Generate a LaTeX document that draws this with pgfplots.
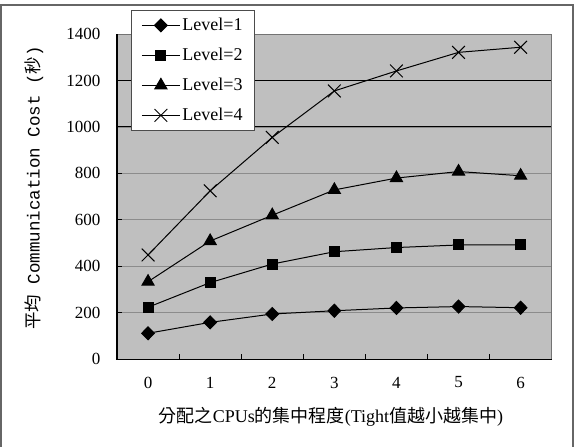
\documentclass[border=0pt]{standalone}
\usepackage{fontspec}
\setmainfont{Liberation Serif}
\newfontfamily\cjk{Noto Sans CJK TC}
\newfontfamily\mono{Liberation Mono}
\usepackage{pgfplots}
\pgfplotsset{compat=1.18}
\begin{document}
\begin{tikzpicture}[x=1pt,y=1pt]
\useasboundingbox (0,0) rectangle (581,-447);
\draw[black!60, line width=1.3pt] (1,-470) -- (1,-5) -- (573,-5) -- (573,-470);
\begin{axis}[
  at={(117pt,-359.3pt)}, anchor=south west,
  scale only axis, width=434.7pt, height=325.3pt,
  xmin=-0.5, xmax=6.5, ymin=0, ymax=1400,
  xtick={0,...,6},
  minor xtick={-0.5,0.5,...,6.5},
  ytick={0,200,...,1400},
  xtick pos=lower, ytick pos=lower,
  tick align=inside,
  major tick length=5pt, minor tick length=5pt,
  major x tick style={draw=none},
  tick style={black, line width=1pt},
  ymajorgrids,
  grid style={black!45, line width=0.8pt},
  extra y ticks={1000,1200},
  extra y tick labels={},
  extra y tick style={grid style={black, line width=1pt}},
  axis background/.style={fill=black!25},
  axis line style={draw=none},
  tick label style={font=\fontsize{17}{19}\selectfont},
  /pgf/number format/assume math mode=true,
  /pgf/number format/1000 sep={},
  yticklabel style={xshift=-13pt},
  xticklabel style={yshift=-14pt},
  clip=false,
  legend style={at={(0.0322,1.0738)}, anchor=north west, draw=black!70,
    line width=0.8pt, fill=white, font=\fontsize{18}{20}\selectfont,
    row sep=12pt, inner xsep=10pt, inner ysep=6pt, cells={anchor=west}},
  legend image code/.code={\draw[mark repeat=2,mark phase=2] plot coordinates {(0pt,0pt)(19pt,0pt)(38pt,0pt)};},
]
\draw[black!55, line width=1pt] (rel axis cs:0,1) -- (rel axis cs:1,1) -- (rel axis cs:1,0);
\draw[black, line width=1.4pt] (rel axis cs:0,1) -- (rel axis cs:0,0) -- (rel axis cs:1,0);
\addplot[black, line width=1pt, mark=diamond*, mark size=6.5pt, mark options={solid, xscale=1.3}]
  coordinates {(0,112) (1,159) (2,195) (3,209) (4,221) (5,227) (6,222)};
\addlegendentry{Level=1}
\addplot[black, line width=1pt, mark=square*, mark size=5pt, mark options={solid}]
  coordinates {(0,224) (1,330) (2,410) (3,463) (4,481) (5,492) (6,492)};
\addlegendentry{Level=2}
\addplot[black, line width=1pt, mark=triangle*, mark size=7pt, mark options={solid}]
  coordinates {(0,334) (1,509) (2,620) (3,729) (4,780) (5,808) (6,790)};
\addlegendentry{Level=3}
\addplot[black, line width=1pt, mark=x, mark size=9pt, mark options={solid}]
  coordinates {(0,449) (1,725) (2,955) (3,1155) (4,1241) (5,1321) (6,1343)};
\addlegendentry{Level=4}
\end{axis}
\node[rotate=90, anchor=center] at (34,-188) {\fontsize{17.5}{19}\selectfont{\cjk 平均}{\mono{} Communication Cost (}{\cjk 秒}{\mono )}};
\node[anchor=center] at (331,-417) {\fontsize{18}{20}\selectfont{\cjk 分配之}CPUs{\cjk 的集中程度}(Tight{\cjk 值越小越集中})};
\end{tikzpicture}
\end{document}
